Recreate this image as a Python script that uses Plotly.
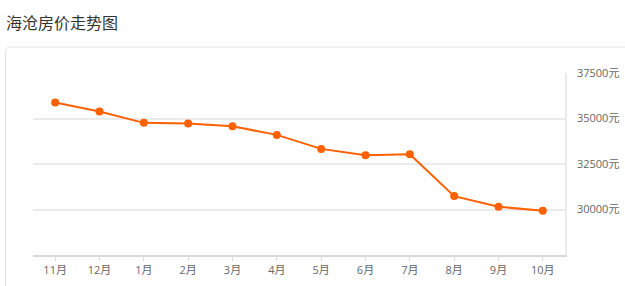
import plotly.graph_objects as go

months = ["11月", "12月", "1月", "2月", "3月", "4月", "5月", "6月", "7月", "8月", "9月", "10月"]
prices = [35880, 35380, 34760, 34720, 34570, 34100, 33330, 32980, 33040, 30735, 30150, 29930]
y_ticks = [27500, 30000, 32500, 35000, 37500]
y_tick_labels = ["", "30000元", "32500元", "35000元", "37500元"]
title_text = "海沧房价走势图"

W, H = 625, 286
ML, MR, MT, MB = 33, 60, 73, 31
pw, ph = W - ML - MR, H - MT - MB

def px(x):
    return (x - ML) / pw

def py(y):
    return (H - MB - y) / ph

fig = go.Figure()
fig.add_trace(go.Scatter(
    x=months, y=prices, mode="lines+markers",
    line=dict(color="#ff6000", width=2),
    marker=dict(color="#ff6000", size=8),
    hoverinfo="x+y", showlegend=False,
))

# panel border with rounded top-left corner
r = 5
x0, y0 = px(5.5), py(47)
x1, y1 = px(640), py(300)
path = (f"M {x0},{y1} L {x0},{py(47 + r)} Q {x0},{y0} {px(5.5 + r)},{y0} L {x1},{y0}")
fig.add_shape(type="path", path=path, xref="paper", yref="paper",
              line=dict(color="#e3e3e3", width=1), layer="below")

fig.add_annotation(text=title_text, xref="paper", yref="paper",
                   x=px(4), y=py(22), xanchor="left", yanchor="middle",
                   showarrow=False,
                   font=dict(family="Noto Sans CJK SC", size=16, color="#333333"))

fig.update_layout(
    width=W, height=H,
    margin=dict(l=ML, r=MR, t=MT, b=MB, autoexpand=False),
    paper_bgcolor="white", plot_bgcolor="white",
    font=dict(family="Open Sans, Noto Sans CJK SC", size=11, color="#666666"),
    xaxis=dict(
        type="category", showgrid=False, showline=True, linecolor="#d9d9d9", linewidth=2,
        ticks="outside", ticklen=4, tickcolor="#d9d9d9", automargin=False,
        tickfont=dict(family="Open Sans, Noto Sans CJK SC", size=11, color="#666666"),
        range=[-0.5, len(months) - 0.5], zeroline=False, fixedrange=True,
    ),
    yaxis=dict(
        side="right", range=[27500, 37500], tickvals=y_ticks, ticktext=y_tick_labels,
        showgrid=True, gridcolor="#ebebeb", gridwidth=1.5, automargin=False,
        showline=True, linecolor="#ebebeb", linewidth=1.5,
        ticks="", ticklabelstandoff=8, zeroline=False, fixedrange=True,
        tickfont=dict(family="Open Sans, Noto Sans CJK SC", size=11, color="#666666"),
    ),
)

fig.write_html("out.html")
